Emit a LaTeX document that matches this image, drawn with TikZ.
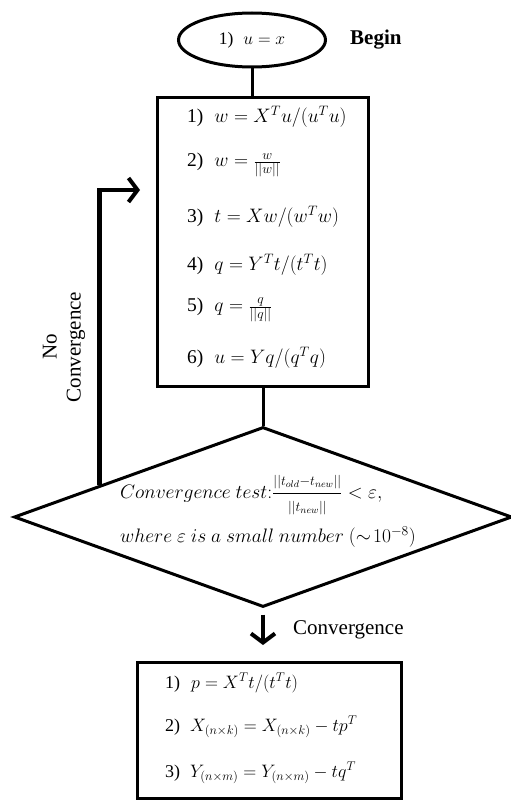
\RequirePackage{fix-cm}
\documentclass[tikz,border=0pt]{standalone}
\usepackage{fontspec}
\setmainfont{Liberation Serif}
\usetikzlibrary{shapes.geometric,arrows.meta,calc}
\begin{document}
\begin{tikzpicture}[x=1pt,y=-1pt,
  bline/.style={line width=3pt},
  thickline/.style={line width=4.5pt},
  itm/.style={anchor=west, inner sep=0pt, font=\fontsize{19.5}{22}\selectfont},
  fitm/.style={anchor=west, inner sep=0pt, font=\fontsize{18}{21}\selectfont},
  lbl/.style={inner sep=0pt, font=\fontsize{21}{24}\selectfont},
  dtxt/.style={anchor=west, inner sep=0pt, font=\fontsize{19.5}{22}\selectfont},
  chev/.style={-{Straight Barb[length=9pt,width=24pt,line width=4pt]}},
]
\useasboundingbox (0,0) rectangle (511,800);
% start ellipse
\node[ellipse, draw, bline, minimum width=147pt, minimum height=54pt, inner sep=0pt,
      font=\fontsize{17.5}{20}\selectfont] (ell) at (252,40) {1)\hspace{10pt}$u=x$};
\node[lbl, anchor=west, font=\bfseries\fontsize{21}{24}\selectfont] (begin) at (350,40) {Begin};
% main box
\node[draw, bline, minimum width=211pt, minimum height=289pt, inner sep=0pt] (box) at (262.5,241.5) {};
\node[itm] (b1) at (187,117) {1)\hspace{11pt}$w = X^T u/(u^T u)$};
\node[itm] (b2) at (187,165) {2)\hspace{11pt}$w = \frac{w}{||w||}$};
\node[itm] (b3) at (187,217) {3)\hspace{11pt}$t = Xw/(w^T w)$};
\node[itm] (b4) at (187,265) {4)\hspace{11pt}$q = Y^T t/(t^T t)$};
\node[itm] (b5) at (187,310) {5)\hspace{11pt}$q = \frac{q}{||q||}$};
\node[itm] (b6) at (187,358) {6)\hspace{11pt}$u = Yq/(q^T q)$};
% diamond
\node[diamond, draw, bline, minimum width=498pt, minimum height=180pt, inner sep=0pt] (dia) at (263,517) {};
\node[dtxt] (d1) at (120,495) {$Convergence\ test{:}\displaystyle\frac{\scriptstyle ||t_{old}-t_{new}||}{\scriptstyle ||t_{new}||} < \varepsilon,$};
\node[dtxt] (d2) at (120,537) {$where\ \varepsilon\ is\ a\ small\ number\ (\sim\!10^{-8})$};
% connectors
\draw[bline] (ell.south) -- (ell.south |- box.north);
\draw[bline] (dia.north |- box.south) -- (dia.north);
% feedback
\coordinate (fbstart) at ($(dia.west)!0.348!(dia.north)$);
\coordinate (fbtip) at (140,190);
\draw[thickline, chev] (fbstart) |- (fbtip);
\node[lbl, rotate=90, align=center] (nc) at (64,347) {No\\Convergence};
% convergence arrow
\coordinate (cvtip) at (263,645);
\draw[thickline, chev, shorten <=6pt] (dia.south) -- (cvtip);
\node[lbl, anchor=west] (cv) at (293,630) {Convergence};
% final box
\node[draw, bline, minimum width=264pt, minimum height=136pt, inner sep=0pt] (box2) at (269,730) {};
\node[fitm] (f1) at (165,683) {1)\hspace{11pt}$p = X^T t/(t^T t)$};
\node[fitm] (f2) at (165,727) {2)\hspace{10pt}$X_{(n\times k)} = X_{(n\times k)} - tp^T$};
\node[fitm] (f3) at (165,773) {3)\hspace{10pt}$Y_{(n\times m)} = Y_{(n\times m)} - tq^T$};
\end{tikzpicture}
\end{document}
